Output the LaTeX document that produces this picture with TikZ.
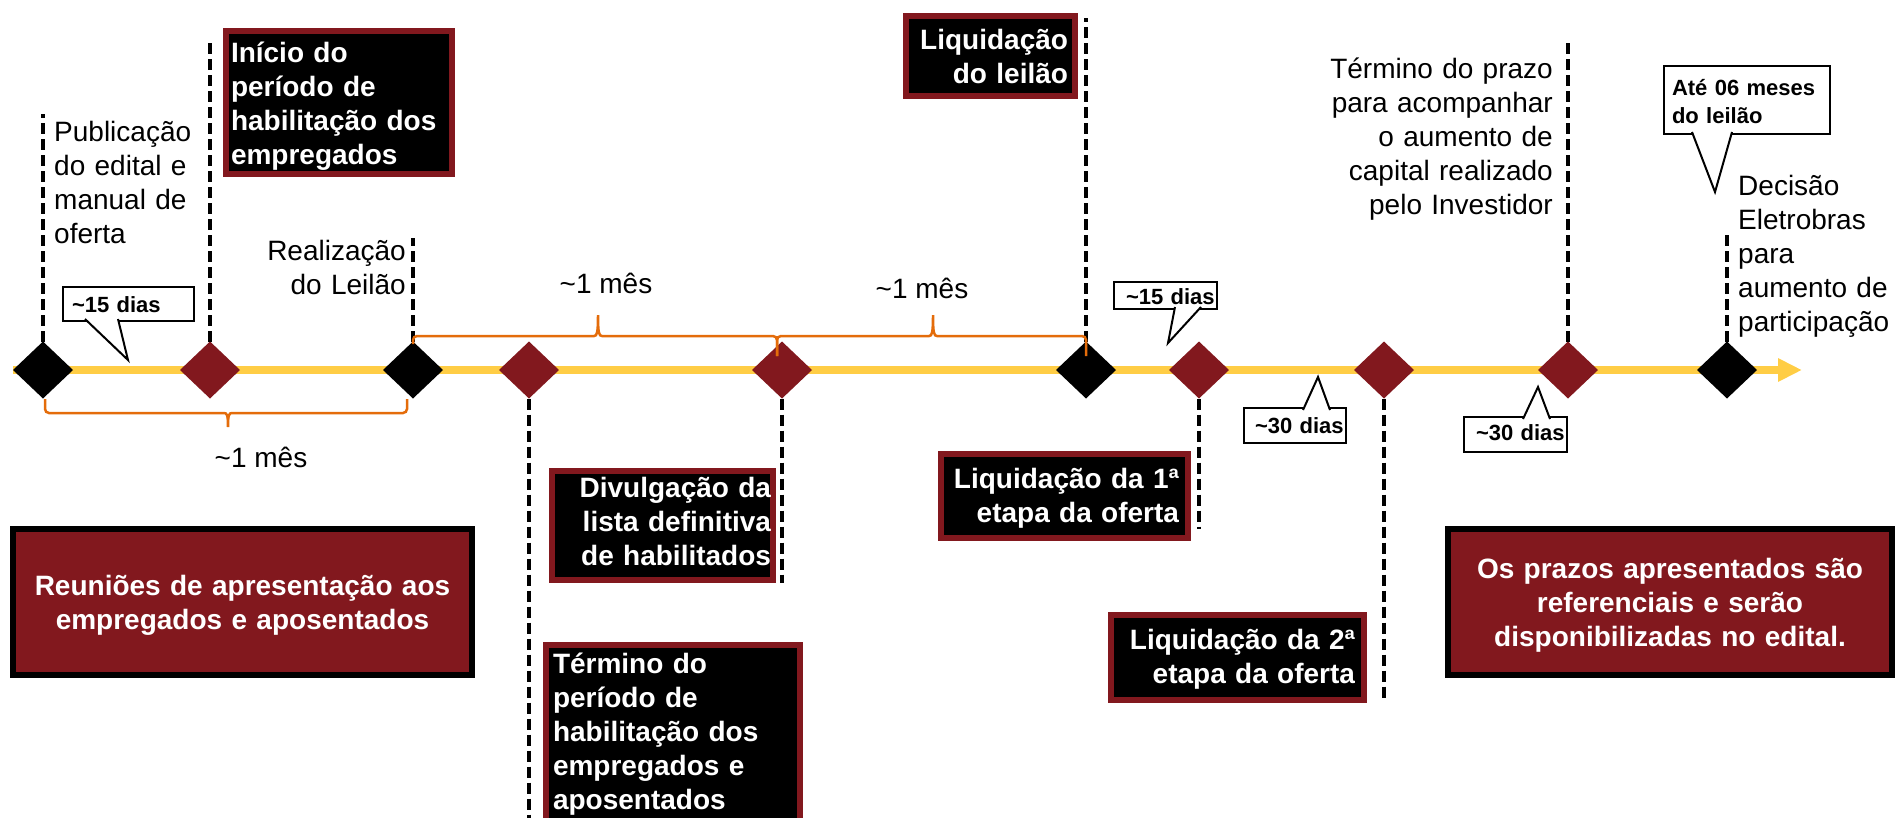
\documentclass[tikz,border=0pt]{standalone}
\usepackage{fontspec}
\setmainfont{Liberation Sans}
\usetikzlibrary{shapes.geometric,arrows.meta}

\definecolor{vinho}{RGB}{130,24,30}
\definecolor{ouro}{RGB}{255,205,69}
\definecolor{laranja}{RGB}{228,108,10}

\newcommand{\fnormal}{\fontsize{28}{34}\selectfont}
\newcommand{\fnegrito}{\bfseries\fontsize{28}{34}\selectfont}
\newcommand{\fnota}{\bfseries\fontsize{22}{28}\selectfont}

\tikzset{
  marco/.style={diamond, minimum width=60pt, minimum height=57pt, inner sep=0pt, outer sep=0pt},
  marcopreto/.style={marco, fill=black},
  marcovinho/.style={marco, fill=vinho},
  guia/.style={line width=3.2pt, dash pattern=on 11pt off 5pt},
  chave/.style={laranja, line width=2.5pt, rounded corners=4pt},
  rotulo/.style={font=\fnormal, inner sep=0pt, text height=20pt},
  mes/.style={font=\fnormal, inner sep=0pt, anchor=base},
  caixapreta/.style={fill=black, draw=vinho, line width=6pt, text=white, font=\fnegrito, inner ysep=0pt, outer sep=0pt, anchor=north west},
  caixavinho/.style={fill=vinho, draw=black, line width=6pt, text=white, font=\fnegrito, inner sep=0pt, outer sep=0pt, anchor=north west, align=center},
  nota/.style={rectangle, draw, fill=white, line width=2pt, font=\fnota, inner ysep=0pt, outer sep=0pt, anchor=north west, align=left},
  rabo/.style={fill=white, line width=2pt}
}

\begin{document}
\begin{tikzpicture}[x=1pt,y=-1pt]
  \useasboundingbox (0,0) rectangle (1896,817);
  \coordinate (ini) at (13,370);
  \coordinate (fim) at (1802,370);
  \draw[ouro, line width=8pt, -{Triangle[width=22pt,length=24pt]}] (ini) -- (fim);

  \node[marcopreto] (m1) at (43,370) {};
  \node[marcovinho] (m2) at (210,370) {};
  \node[marcopreto] (m3) at (413,370) {};
  \node[marcovinho] (m4) at (529,370) {};
  \node[marcovinho] (m5) at (782,370) {};
  \node[marcopreto] (m6) at (1086,370) {};
  \node[marcovinho] (m7) at (1199,370) {};
  \node[marcovinho] (m8) at (1384,370) {};
  \node[marcovinho] (m9) at (1568,370) {};
  \node[marcopreto] (m10) at (1727,370) {};

  \draw[guia] (m1.north) -- ++(0,-228);
  \draw[guia] (m2.north) -- ++(0,-299);
  \draw[guia] (m3.north) -- ++(0,-104);
  \draw[guia] (m4.south) -- ++(0,432);
  \draw[guia] (m5.south) -- ++(0,184);
  \draw[guia] (m6.north) -- ++(0,-324);
  \draw[guia] (m7.south) -- ++(0,130);
  \draw[guia] (m8.south) -- ++(0,302);
  \draw[guia] (m9.north) -- ++(0,-299);
  \draw[guia] (m10.north) -- ++(0,-108);

  \draw[chave] (45,399) |- (220,413) .. controls (227,413) and (228,415) .. (228,427)
               (407,399) |- (236,413) .. controls (229,413) and (228,415) .. (228,427);
  \draw[chave] (413,344) |- (590,336) .. controls (597,336) and (598,333) .. (598,315)
               (777,356) |- (606,336) .. controls (599,336) and (598,333) .. (598,315);
  \draw[chave] (777,356) |- (925,336) .. controls (932,336) and (933,333) .. (933,315)
               (1086,356) |- (941,336) .. controls (934,336) and (933,333) .. (933,315);

  \node[mes] (mes0) at (261,467) {\textasciitilde1 mês};
  \node[mes] (mes1) at (606,293) {\textasciitilde1 mês};
  \node[mes] (mes2) at (922,298) {\textasciitilde1 mês};

  \node[rotulo, anchor=north west, text width=150pt, align=left] (publ) at (54,121) {Publicação\\do edital e\\manual de\\oferta};
  \node[rotulo, anchor=north east, text width=145pt, align=right] (leilao) at (406,240) {Realização\\do Leilão};
  \node[rotulo, anchor=north east, text width=250pt, align=right] (prazo) at (1553,58) {Término do prazo\\para acompanhar\\o aumento de\\capital realizado\\pelo Investidor};
  \node[rotulo, anchor=north west, text width=160pt, align=left] (decisao) at (1738,175) {Decisão\\Eletrobras\\para\\aumento de\\participação};

  \node[caixapreta, inner xsep=5pt, text width=216pt, text height=31pt, text depth=112pt, align=left] (inicio) at (226,31) {Início do\\período de\\habilitação dos\\empregados};
  \node[caixapreta, inner xsep=7pt, text width=155pt, text height=33pt, text depth=47pt, align=right] (liqleilao) at (906,16) {Liquidação\\do leilão};
  \node[caixapreta, inner xsep=2pt, text width=217pt, text height=26pt, text depth=83pt, align=right] (divulga) at (552,471) {Divulgação da\\lista definitiva\\de habilitados};
  \node[caixapreta, inner xsep=7pt, text width=240pt, text height=28pt, text depth=204pt, align=left] (termino) at (546,645) {Término do\\período de\\habilitação dos\\empregados e\\aposentados};
  \node[caixapreta, inner xsep=9pt, text width=229pt, text height=34pt, text depth=50pt, align=right] (liq1) at (941,454) {Liquidação da 1ª\\etapa da oferta};
  \node[caixapreta, inner xsep=9pt, text width=235pt, text height=34pt, text depth=51pt, align=right] (liq2) at (1111,615) {Liquidação da 2ª\\etapa da oferta};
  \node[caixavinho, text width=459pt, text height=66pt, text depth=80pt] (reunioes) at (13,529) {Reuniões de apresentação aos\\empregados e aposentados};
  \node[caixavinho, text width=444pt, text height=49pt, text depth=97pt] (avisos) at (1448,529) {Os prazos apresentados são\\referenciais e serão\\disponibilizadas no edital.};

  \node[nota, inner xsep=9pt, text width=113pt, text height=25pt, text depth=9pt] (n1) at (63,287) {\mbox{\textasciitilde15 dias}};
  \draw[rabo] (85,319) -- (128,360) -- (118,319);
  \node[nota, inner xsep=12pt, text width=79pt, text height=22pt, text depth=5pt] (n2) at (1114,282) {\mbox{\textasciitilde15 dias}};
  \draw[rabo] (1175,307) -- (1168,343) -- (1201,307);
  \node[nota, inner xsep=11pt, text width=80pt, text height=25pt, text depth=10pt] (n3) at (1244,408) {\mbox{\textasciitilde30 dias}};
  \draw[rabo] (1303,410) -- (1318,377) -- (1330,410);
  \node[nota, inner xsep=12pt, text width=79pt, text height=23pt, text depth=12pt] (n4) at (1464,417) {\mbox{\textasciitilde30 dias}};
  \draw[rabo] (1523,419) -- (1538,387) -- (1550,419);
  \node[nota, inner xsep=8pt, text width=150pt, text height=29pt, text depth=39pt] (n5) at (1664,66) {Até 06 meses\\do leilão};
  \draw[rabo] (1692,132) -- (1715,192) -- (1732,132);
\end{tikzpicture}
\end{document}
